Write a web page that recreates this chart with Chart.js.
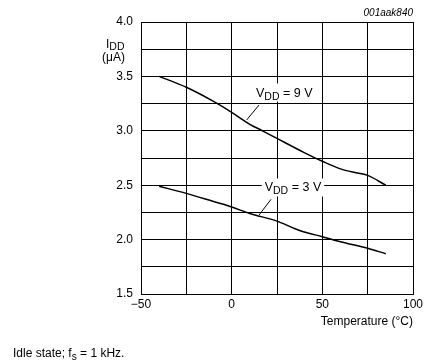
<!DOCTYPE html>
<html><head><meta charset="utf-8">
<script src="https://cdn.jsdelivr.net/npm/chart.js@4/dist/chart.umd.min.js"></script>
<style>html,body{margin:0;padding:0;background:#fff}#wrap{width:433px;height:362px}</style>
</head><body><div id="wrap"><canvas id="c" width="433" height="362"></canvas></div>
<script>
const temps9 = [-40, -25, -10, 0, 10, 17, 25, 40, 50, 60, 70, 75, 85];
const idd9V  = [3.50, 3.40, 3.27, 3.17, 3.06, 3.00, 2.93, 2.80, 2.72, 2.65, 2.61, 2.59, 2.50];
const temps3 = [-40, -25, -10, 0, 10, 25, 35, 40, 50, 60, 75, 85];
const idd3V  = [2.49, 2.425, 2.35, 2.30, 2.24, 2.17, 2.10, 2.07, 2.027, 1.98, 1.92, 1.87];
const xTickLabels = {"-50": "\u221250", "0": "0", "50": "50", "100": "100"};
const yTickLabels = {"1.5": "1.5", "2": "2.0", "2.5": "2.5", "3": "3.0", "3.5": "3.5", "4": "4.0"};
const curveLabels = [
  {main: "V", sub: "DD", rest: " = 9 V", x: 29, y: 3.352, lx1: 8.3, ly1: 3.10, lx2: 15.1, ly2: 3.237},
  {main: "V", sub: "DD", rest: " = 3 V", x: 33.8, y: 2.479, lx1: 15.1, ly1: 2.226, lx2: 21.7, ly2: 2.37}
];
const FONT = "'Liberation Sans', Arial, sans-serif";

function drawSubText(ctx, x, y, parts, align) {
  let total = 0;
  parts.forEach(p => { ctx.font = p[1] + "px " + FONT; total += ctx.measureText(p[0]).width; });
  let cx = align === 'center' ? x - total / 2 : (align === 'right' ? x - total : x);
  ctx.textAlign = 'left';
  parts.forEach(p => { ctx.font = p[1] + "px " + FONT; ctx.fillText(p[0], cx, y + p[2]); cx += ctx.measureText(p[0]).width; });
  return total;
}

const annot = {
  id: 'annot',
  afterDatasetsDraw(chart) {
    const ctx = chart.ctx, xs = chart.scales.x, ys = chart.scales.y;
    ctx.save();
    ctx.fillStyle = '#000'; ctx.strokeStyle = '#000'; ctx.textBaseline = 'alphabetic';
    curveLabels.forEach(l => {
      const px = xs.getPixelForValue(l.x), py = ys.getPixelForValue(l.y);
      const parts = [[l.main, 12.5, 0], [l.sub, 10.5, 3], [l.rest, 12.5, 0]];
      let w = 0;
      parts.forEach(p => { ctx.font = p[1] + "px " + FONT; w += ctx.measureText(p[0]).width; });
      ctx.fillStyle = '#fff';
      ctx.fillRect(px - w / 2 - 3, py - 9, w + 6, 18);
      ctx.fillStyle = '#000';
      drawSubText(ctx, px, py + 4, parts, 'center');
      ctx.lineWidth = 1;
      ctx.beginPath();
      ctx.moveTo(xs.getPixelForValue(l.lx1), ys.getPixelForValue(l.ly1));
      ctx.lineTo(xs.getPixelForValue(l.lx2), ys.getPixelForValue(l.ly2));
      ctx.stroke();
    });
    // y title
    drawSubText(ctx, 106, 48, [["I", 12, 0], ["DD", 10.5, 2]], 'left');
    ctx.font = "12px " + FONT; ctx.textAlign = 'left';
    ctx.fillText("(\u03bcA)", 102, 61);
    // x title
    ctx.textAlign = 'right';
    ctx.fillText("Temperature (\u00b0C)", 413, 325);
    // code
    ctx.font = "italic 10px " + FONT;
    ctx.fillText("001aak840", 413, 16);
    // footnote
    drawSubText(ctx, 13, 357, [["Idle state; f", 12, 0], ["s", 10, 3], [" = 1 kHz.", 12, 0]], 'left');
    ctx.restore();
  }
};

new Chart(document.getElementById('c'), {
  type: 'line',
  data: {
    datasets: [
      {label: 'VDD = 9 V', data: temps9.map((t, i) => ({x: t, y: idd9V[i]})), borderColor: '#000', borderWidth: 1.5, pointRadius: 0, cubicInterpolationMode: 'monotone', fill: false},
      {label: 'VDD = 3 V', data: temps3.map((t, i) => ({x: t, y: idd3V[i]})), borderColor: '#000', borderWidth: 1.5, pointRadius: 0, cubicInterpolationMode: 'monotone', fill: false}
    ]
  },
  options: {
    responsive: false, animation: false, devicePixelRatio: 1,
    layout: {padding: {left: 0, right: 20, top: 22, bottom: 0}},
    plugins: {legend: {display: false}, tooltip: {enabled: false}},
    scales: {
      x: {
        type: 'linear', min: -50, max: 100,
        afterFit: s => { s.height = 68; },
        ticks: {stepSize: 25, autoSkip: false, maxRotation: 0, color: '#000', font: {family: FONT, size: 12}, padding: 3,
          callback: v => xTickLabels[String(v)] || ''},
        grid: {color: '#000', lineWidth: 1, drawTicks: false},
        border: {color: '#000', width: 1}
      },
      y: {
        type: 'linear', min: 1.5, max: 4.0,
        afterFit: s => { s.width = 141; },
        ticks: {stepSize: 0.25, autoSkip: false, color: '#000', font: {family: FONT, size: 12}, padding: 8,
          callback: v => yTickLabels[String(v)] || ''},
        grid: {color: '#000', lineWidth: 1, drawTicks: false},
        border: {color: '#000', width: 1}
      }
    }
  },
  plugins: [annot]
});
</script></body></html>
